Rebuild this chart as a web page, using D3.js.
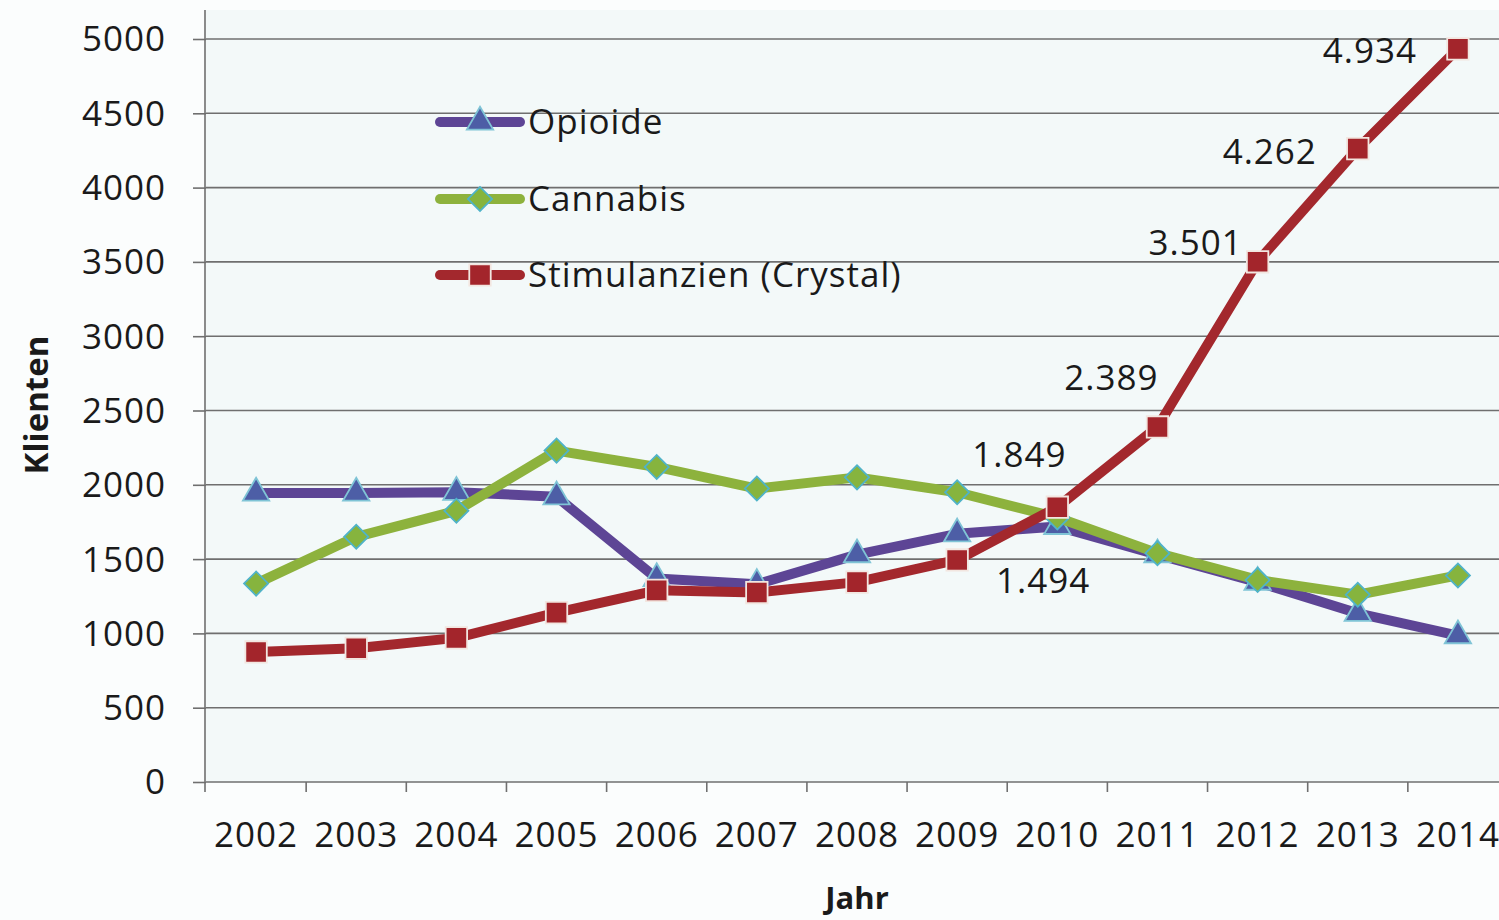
<!DOCTYPE html>
<html>
<head>
<meta charset="utf-8">
<script src="https://cdn.jsdelivr.net/npm/d3@7"></script>
<style>
  html, body { margin: 0; padding: 0; background: #fbfdfd; }
  svg { display: block; }
  text { font-family: "Open Sans", "Noto Sans", sans-serif; fill: #1a1a1a; }
</style>
</head>
<body>
<svg id="chart" width="1499" height="920"></svg>
<script>
// Klienten nach Hauptdiagnose, 2002–2014
const years = ["2002","2003","2004","2005","2006","2007","2008","2009","2010","2011","2012","2013","2014"];
const opioide = [1945, 1945, 1950, 1920, 1370, 1330, 1530, 1670, 1720, 1530, 1345, 1135, 985];
const cannabis = [1335, 1650, 1825, 2230, 2120, 1975, 2050, 1950, 1780, 1540, 1360, 1260, 1390];
const stimulanzien = [875, 900, 970, 1140, 1290, 1275, 1345, 1494, 1849, 2389, 3501, 4262, 4934];
const yTicks = [0, 500, 1000, 1500, 2000, 2500, 3000, 3500, 4000, 4500, 5000];

// Years whose value is written next to the Stimulanzien marker
const labelYears = ["2009","2010","2011","2012","2013","2014"];
// Label placement relative to its marker (dx, dy of the text centre)
const labelOffsets = {
  "2009": [86, 21], "2010": [-38, -52], "2011": [-46, -49],
  "2012": [-62, -19], "2013": [-88, 3], "2014": [-88, 2]
};

const series = [
  { name: "Opioide", values: opioide, line: "#5d4595", fill: "#4d5ea6", stroke: "#7fc4d6", symbol: d3.symbolTriangle, size: 300, rotate: 0 },
  { name: "Cannabis", values: cannabis, line: "#8db23d", fill: "#86b43e", stroke: "#4fb3c9", symbol: d3.symbolSquare, size: 290, rotate: 45 },
  { name: "Stimulanzien (Crystal)", values: stimulanzien, line: "#a3282d", fill: "#a3252b", stroke: "#f2e6e0", symbol: d3.symbolSquare, size: 460, rotate: 0 }
];

const svg = d3.select("#chart");
const W = 1499, H = 920;
const plot = { left: 206, right: 1508, top: 39, bottom: 782 };

const x = d3.scaleBand().domain(years).range([plot.left, plot.right]);
const y = d3.scaleLinear().domain([0, 5000]).range([plot.bottom, plot.top]);
const cx = d => x(d) + x.bandwidth() / 2;

// plot background
svg.append("rect")
  .attr("x", plot.left).attr("y", 10)
  .attr("width", W - plot.left).attr("height", plot.bottom - 10)
  .attr("fill", "#f3f9f9");

// y axis labels with short tick marks
const yAxis = d3.axisLeft(y).tickValues(yTicks).tickSize(plot.left - 193).tickSizeOuter(0).tickPadding(27)
  .tickFormat(d3.format("d"));
const gy = svg.append("g").attr("transform", `translate(${plot.left},0)`).call(yAxis);
gy.select(".domain").remove();
gy.selectAll(".tick line").attr("stroke", "#6f6f6f").attr("stroke-width", 1.6);
gy.selectAll(".tick text").style("font-size", "35px").style("letter-spacing", "1px")
  .attr("dy", "0.34em").attr("fill", "#1a1a1a");

// horizontal gridlines
svg.append("g").selectAll("line").data(yTicks).join("line")
  .attr("x1", plot.left).attr("x2", W)
  .attr("y1", d => y(d)).attr("y2", d => y(d))
  .attr("stroke", "#6f6f6f").attr("stroke-width", 1.6);

// vertical axis line
svg.append("line")
  .attr("x1", plot.left - 1).attr("x2", plot.left - 1)
  .attr("y1", 10).attr("y2", plot.bottom + 10)
  .attr("stroke", "#6f6f6f").attr("stroke-width", 1.6);

// x axis: labels centred in each band, tick marks on band edges
const xAxis = d3.axisBottom(x).tickSize(0).tickPadding(40);
const gx = svg.append("g").attr("transform", `translate(0,${plot.bottom})`).call(xAxis);
gx.select(".domain").remove();
gx.selectAll(".tick text").style("font-size", "35px").style("letter-spacing", "1px").attr("fill", "#1a1a1a");

svg.append("g").selectAll("line").data(years).join("line")
  .attr("x1", (d, i) => plot.left + (i + 1) * x.step())
  .attr("x2", (d, i) => plot.left + (i + 1) * x.step())
  .attr("y1", plot.bottom).attr("y2", plot.bottom + 10)
  .attr("stroke", "#6f6f6f").attr("stroke-width", 1.6);

// axis titles
svg.append("text")
  .attr("transform", `translate(36,405) rotate(-90)`)
  .attr("text-anchor", "middle").attr("dy", "0.35em")
  .style("font-size", "33px").style("font-weight", "bold")
  .text("Klienten");
svg.append("text")
  .attr("x", 857).attr("y", 898)
  .attr("text-anchor", "middle").attr("dy", "0.35em")
  .style("font-size", "31px").style("font-weight", "bold")
  .text("Jahr");

// series lines and markers
const line = d3.line().x(d => cx(d.year)).y(d => y(d.value));
series.forEach(s => {
  const pts = years.map((yr, i) => ({ year: yr, value: s.values[i] }));
  const g = svg.append("g");
  g.append("path").datum(pts)
    .attr("d", line).attr("fill", "none")
    .attr("stroke", s.line).attr("stroke-width", 10)
    .attr("stroke-linejoin", "round");
  g.selectAll("path.m").data(pts).join("path").attr("class", "m")
    .attr("transform", d => `translate(${cx(d.year)},${y(d.value)}) rotate(${s.rotate})`)
    .attr("d", d3.symbol().type(s.symbol).size(s.size))
    .attr("fill", s.fill).attr("stroke", s.stroke).attr("stroke-width", 1.8);
});

// value labels on Stimulanzien
const fmt = v => d3.format(",")(v).replace(/,/g, ".");
svg.append("g").selectAll("text").data(labelYears).join("text")
  .attr("x", d => cx(d) + labelOffsets[d][0])
  .attr("y", d => y(stimulanzien[years.indexOf(d)]) + labelOffsets[d][1])
  .attr("text-anchor", "middle").attr("dy", "0.35em")
  .style("font-size", "35px").style("letter-spacing", "1px")
  .text(d => fmt(stimulanzien[years.indexOf(d)]));

// legend
const legend = svg.append("g");
const legendRows = [122, 199, 275];
series.forEach((s, i) => {
  const ly = legendRows[i];
  legend.append("line")
    .attr("x1", 440).attr("x2", 520).attr("y1", ly).attr("y2", ly)
    .attr("stroke", s.line).attr("stroke-width", 10).attr("stroke-linecap", "round");
  legend.append("path")
    .attr("transform", `translate(480,${ly}) rotate(${s.rotate})`)
    .attr("d", d3.symbol().type(s.symbol).size(s.size))
    .attr("fill", s.fill).attr("stroke", s.stroke).attr("stroke-width", 1.8);
  legend.append("text")
    .attr("x", 528).attr("y", ly).attr("dy", "0.35em")
    .style("font-size", "35px").style("letter-spacing", "1px")
    .text(s.name);
});
</script>
</body>
</html>
